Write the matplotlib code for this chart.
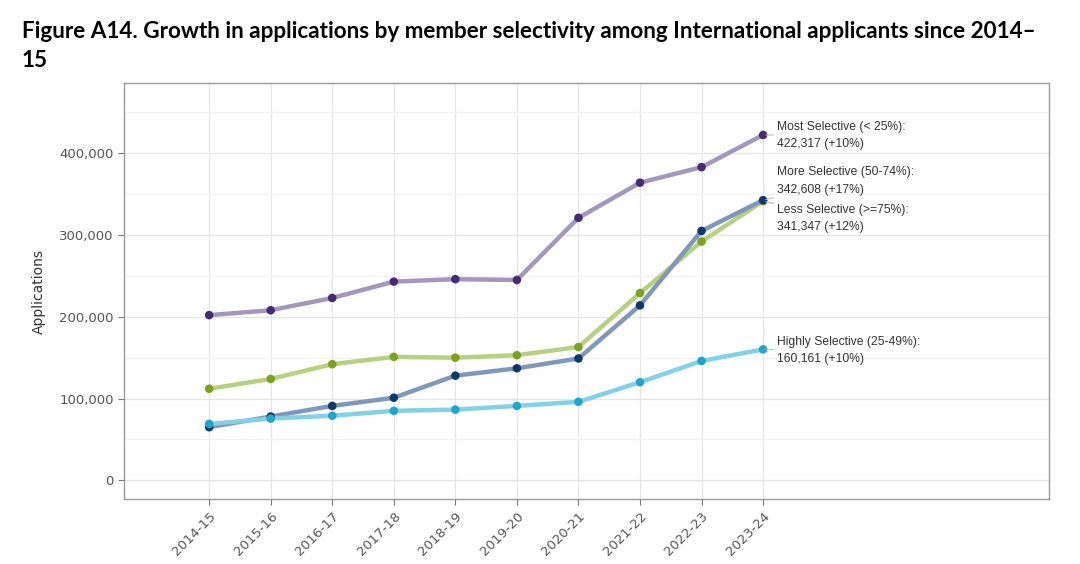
import numpy as np
import matplotlib
matplotlib.use("Agg")
import matplotlib.pyplot as plt
from matplotlib.ticker import FuncFormatter, MultipleLocator

years = ['2014-15', '2015-16', '2016-17', '2017-18', '2018-19',
         '2019-20', '2020-21', '2021-22', '2022-23', '2023-24']

most_selective = [202000, 208000, 223000, 243000, 246000, 245000, 321000, 364000, 383000, 422317]
less_selective = [112000, 124000, 142000, 151000, 150000, 153000, 163000, 229000, 292000, 341347]
more_selective = [65000, 78000, 91000, 101000, 128000, 137000, 149000, 214000, 305000, 342608]
highly_selective = [69000, 75500, 79000, 85000, 86500, 91000, 96000, 120000, 146000, 160161]

labels = ['Most Selective (< 25%):\n422,317 (+10%)',
          'More Selective (50-74%):\n342,608 (+17%)',
          'Less Selective (>=75%):\n341,347 (+12%)',
          'Highly Selective (25-49%):\n160,161 (+10%)']
# vertical position of each end label (data units)
label_y = [422000, 366000, 320000, 158500]

series = [most_selective, more_selective, less_selective, highly_selective]
marker_colors = ['#452c72', '#0c3a6c', '#7aa31e', '#1ea6cb']
line_colors = ['#a497bd', '#7f98b9', '#b6d17f', '#82d1e4']

fig = plt.figure(figsize=(10.8, 5.64), dpi=100)
ax = fig.add_axes([0.115, 0.115, 0.856, 0.738])

x = np.arange(len(years))
# draw order: less selective beneath more selective
order = [0, 2, 1, 3]
for i in order:
    ax.plot(x, series[i], color=line_colors[i], linewidth=3.2, zorder=2,
            solid_capstyle='round')
    ax.scatter(x, series[i], color=marker_colors[i], s=38, zorder=3, edgecolors='none')

for i in range(4):
    ax.annotate(labels[i], xy=(x[-1], series[i][-1]), xytext=(x[-1] + 0.22, label_y[i]),
                fontsize=8.7, family='Liberation Sans', color='#333333', va='center', ha='left',
                linespacing=1.6,
                arrowprops=dict(arrowstyle='-', color='#bbbbbb', lw=0.8, shrinkA=0, shrinkB=2))

ax.set_xlim(-1.38, 13.64)
ax.set_ylim(-23000, 486000)
ax.set_xticks(x)
ax.set_xticklabels(years, rotation=45, ha='right', rotation_mode='anchor')
ax.yaxis.set_major_locator(MultipleLocator(100000))
ax.yaxis.set_minor_locator(MultipleLocator(50000))
ax.yaxis.set_major_formatter(FuncFormatter(lambda v, p: f'{int(v):,}'))
ax.grid(True, which='major', color='#e6e6e6', linewidth=0.9)
ax.grid(True, which='minor', axis='y', color='#f2f2f2', linewidth=0.9)
ax.tick_params(axis='both', which='major', colors='#777777', labelcolor='#555555',
               labelsize=9.5, length=4)
ax.tick_params(axis='y', which='minor', length=0)
for s in ax.spines.values():
    s.set_color('#999999')
    s.set_linewidth(1.0)
ax.set_ylabel('Applications', fontsize=10, color='#333333', labelpad=10)
ax.set_axisbelow(True)

fig.text(0.02, 0.962, 'Figure A14. Growth in applications by member selectivity among International applicants since 2014\u2013\n15',
         fontsize=16.2, fontweight='bold', family='Lato', va='top', ha='left', color='black',
         linespacing=1.45)

fig.savefig('out.png', dpi=100)
